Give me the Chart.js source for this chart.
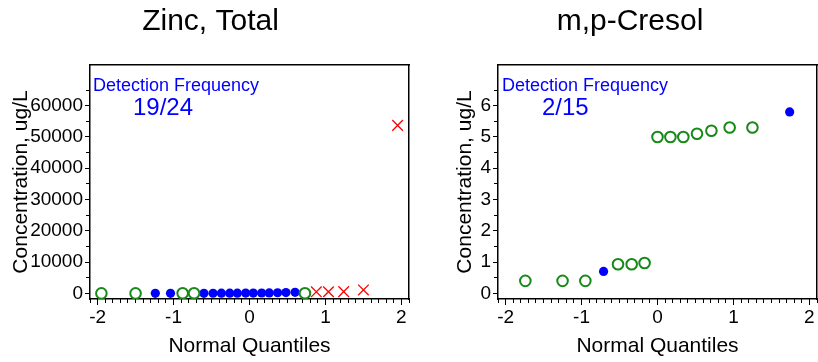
<!DOCTYPE html>
<html><head><meta charset="utf-8">
<script src="https://cdn.jsdelivr.net/npm/chart.js@4.4.1/dist/chart.umd.min.js"></script>
<style>
html,body{margin:0;padding:0;background:#fff;overflow:hidden;width:818px;height:362px;}
.box{position:absolute;top:0;height:362px;}
#b1{left:0;width:421px;}
#b2{left:430px;width:400px;}
</style></head><body>
<div class="box" id="b1"><canvas id="c1"></canvas></div>
<div class="box" id="b2"><canvas id="c2"></canvas></div>
<script>
// ---- Zinc, Total ----
const zincTitle = 'Zinc, Total';
const zincFreq = '19/24';
const zincNonDetectQ = [-1.95, -1.50, -0.88, -0.73, 0.73];
const zincNonDetectV = [10, 10, 20, 20, 50];
const zincDetectQ = [-1.24, -1.04, -0.60, -0.48, -0.37, -0.26, -0.16, -0.05, 0.05, 0.16, 0.26, 0.37, 0.48, 0.60];
const zincDetectV = [15, 22, 30, 40, 48, 55, 70, 85, 100, 120, 150, 190, 240, 320];
const zincHighQ = [0.88, 1.04, 1.24, 1.50, 1.95];
const zincHighV = [500, 520, 560, 1100, 53700];
const zincYTicks = [0, 10000, 20000, 30000, 40000, 50000, 60000];

// ---- m,p-Cresol ----
const cresolTitle = 'm,p-Cresol';
const cresolFreq = '2/15';
const cresolNonDetectQ = [-1.74, -1.25, -0.95, -0.52, -0.34, -0.17, 0.00, 0.17, 0.34, 0.52, 0.71, 0.95, 1.25];
const cresolNonDetectV = [0.4, 0.4, 0.4, 0.93, 0.93, 0.97, 5.0, 5.0, 5.0, 5.1, 5.2, 5.3, 5.3];
const cresolDetectQ = [-0.71, 1.74];
const cresolDetectV = [0.7, 5.8];
const cresolYTicks = [0, 1, 2, 3, 4, 5, 6];

const xTickValues = [-2, -1, 0, 1, 2];
const xAxisLabel = 'Normal Quantiles';
const yAxisLabel = 'Concentration, ug/L';
const freqLabel = 'Detection Frequency';

const FONT = '"Liberation Sans", Arial, Helvetica, sans-serif';
Chart.defaults.font.family = FONT;
Chart.defaults.color = '#000';

const pts = (q, v) => q.map((x, i) => ({x: x, y: v[i]}));

const freqPlugin = {
  id: 'freq',
  afterDatasetsDraw(chart, args, opts) {
    const {ctx, chartArea} = chart;
    ctx.save();
    ctx.fillStyle = '#0000ff';
    ctx.textAlign = 'left';
    ctx.textBaseline = 'alphabetic';
    ctx.font = '18px ' + FONT;
    ctx.fillText(freqLabel, chartArea.left + opts.dx1, chartArea.top + 26);
    ctx.font = '24px ' + FONT;
    ctx.fillText(opts.freq, chartArea.left + opts.dx2, chartArea.top + 50);
    ctx.restore();
  }
};

function makeChart(id, c) {
  const datasets = [
    {label: 'Non-detect', data: pts(c.ndQ, c.ndV), pointStyle: 'circle', pointRadius: 5.3,
     borderColor: '#168a16', borderWidth: 2, backgroundColor: 'rgba(255,255,255,0)'},
    {label: 'Detect', data: pts(c.dQ, c.dV), pointStyle: 'circle', pointRadius: 4.6,
     borderColor: '#0000ff', borderWidth: 0, backgroundColor: '#0000ff'}
  ];
  if (c.hQ) datasets.push({label: 'High', data: pts(c.hQ, c.hV), pointStyle: 'crossRot', pointRadius: 7.5,
     borderColor: '#ff0000', borderWidth: 1.3, backgroundColor: '#ff0000'});
  datasets.forEach(d => { d.xAxisID = 'x'; d.yAxisID = 'y'; d.pointHoverRadius = d.pointRadius; });

  const minorTicks = (min, max, step) => {
    const out = [];
    for (let k = Math.ceil(min / step - 1e-9); k * step <= max + 1e-9; k++) out.push({value: +(k * step).toFixed(6)});
    return out;
  };

  return new Chart(document.getElementById(id), {
    type: 'scatter',
    data: {datasets},
    plugins: [freqPlugin],
    options: {
      responsive: true, maintainAspectRatio: false, animation: false,
      layout: {padding: 0},
      plugins: {
        legend: {display: false}, tooltip: {enabled: false},
        title: {display: true, text: c.title, color: '#000',
                font: {size: 30, weight: 'normal', family: FONT}, padding: {top: 4, bottom: 25}},
        freq: {freq: c.freq, dx1: c.dx1, dx2: c.dx2}
      },
      scales: {
        x: {
          type: 'linear', position: 'bottom', weight: 1, min: -2.1, max: 2.1,
          afterBuildTicks: s => { s.ticks = xTickValues.map(v => ({value: v})); },
          ticks: {autoSkip: false, maxRotation: 0, padding: 1,
                  font: {size: 19}, color: '#000', callback: v => String(v)},
          grid: {display: true, drawOnChartArea: false, drawTicks: true, tickLength: 6, color: '#000', tickColor: '#000', tickWidth: 1},
          border: {display: true, color: '#000', width: 1.5},
          title: {display: true, text: xAxisLabel, color: '#000', font: {size: 21}, padding: {top: 0, bottom: 3}},
          afterFit: s => { s.height = 63; }
        },
        xMinor: {
          type: 'linear', position: 'bottom', weight: 0, min: -2.1, max: 2.1,
          afterBuildTicks: s => { s.ticks = minorTicks(-2.1, 2.1, 0.1); },
          ticks: {display: false, autoSkip: false},
          grid: {display: true, drawOnChartArea: false, drawTicks: true, tickLength: 4, color: '#000', tickColor: '#000', tickWidth: 1},
          border: {display: false},
          afterFit: s => { s.height = 0; }
        },
        xTop: {
          type: 'linear', position: 'top', min: -2.1, max: 2.1,
          ticks: {display: false}, grid: {display: false},
          border: {display: true, color: '#000', width: 1.5},
          afterFit: s => { s.height = 0; }
        },
        y: {
          type: 'linear', position: 'left', weight: 1, min: c.yMin, max: c.yMax,
          afterBuildTicks: s => { s.ticks = c.yTicks.map(v => ({value: v})); },
          ticks: {autoSkip: false, padding: 2, crossAlign: 'near',
                  font: {size: 19}, color: '#000', callback: v => String(v)},
          grid: {display: true, drawOnChartArea: false, drawTicks: true, tickLength: 5, color: '#000', tickColor: '#000', tickWidth: 1},
          border: {display: true, color: '#000', width: 1.5},
          title: {display: true, text: yAxisLabel, color: '#000', font: {size: 21}, padding: {top: c.yTitlePad, bottom: 0}},
          afterFit: s => { s.width = c.yAxisWidth; }
        },
        yMinor: {
          type: 'linear', position: 'left', weight: 0, min: c.yMin, max: c.yMax,
          afterBuildTicks: s => { s.ticks = minorTicks(0, c.yLastTick, c.yMinorStep); },
          ticks: {display: false, autoSkip: false},
          grid: {display: true, drawOnChartArea: false, drawTicks: true, tickLength: 4, color: '#000', tickColor: '#000', tickWidth: 1},
          border: {display: false},
          afterFit: s => { s.width = 0; }
        },
        yRight: {
          type: 'linear', position: 'right', min: c.yMin, max: c.yMax,
          ticks: {display: false}, grid: {display: false},
          border: {display: true, color: '#000', width: 1.5},
          afterFit: s => { s.width = c.rightWidth; }
        }
      }
    }
  });
}

makeChart('c1', {
  title: zincTitle, freq: zincFreq, yTicks: zincYTicks,
  ndQ: zincNonDetectQ, ndV: zincNonDetectV, dQ: zincDetectQ, dV: zincDetectV, hQ: zincHighQ, hV: zincHighV,
  yMin: -1800, yMax: 73000, yMinorStep: 5000, yLastTick: 65000,
  yAxisWidth: 90, rightWidth: 12, yTitlePad: 9, dx1: 3, dx2: 43
});
makeChart('c2', {
  title: cresolTitle, freq: cresolFreq, yTicks: cresolYTicks,
  ndQ: cresolNonDetectQ, ndV: cresolNonDetectV, dQ: cresolDetectQ, dV: cresolDetectV,
  yMin: -0.18, yMax: 7.3, yMinorStep: 0.5, yLastTick: 6.5,
  yAxisWidth: 68, rightWidth: 13, yTitlePad: 23, dx1: 4, dx2: 44
});
</script>
</body></html>
